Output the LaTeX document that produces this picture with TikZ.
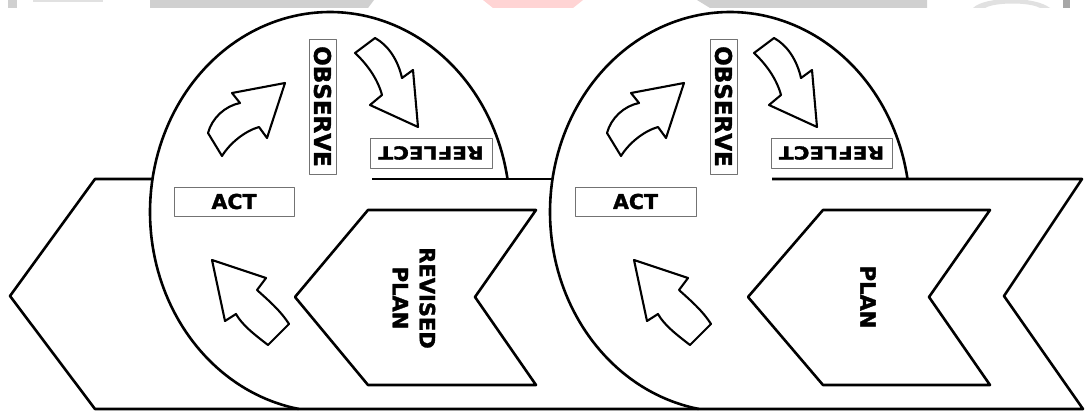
\documentclass[tikz,border=0pt]{standalone}
\usepackage{fontspec}
\setmainfont{DejaVu Sans}[BoldFeatures={FakeBold=1.6}]
\definecolor{wmgray}{RGB}{208,208,208}
\definecolor{wmlight}{RGB}{225,225,225}
\definecolor{wmpink}{RGB}{255,212,212}
\begin{document}
\begin{tikzpicture}[x=1pt,y=-1pt,line join=round,
  outline/.style={draw=black,line width=2.6pt},
  arr/.style={draw=black,line width=2.1pt,fill=white},
  lbox/.style={draw=black!55,line width=0.9pt,inner sep=0pt,fill=white},
  lbl/.style={font=\fontsize{20.5}{24}\selectfont\bfseries}]
\useasboundingbox[fill=white] (0,0) rectangle (1085,412);
% watermark strip at the top
\fill[wmgray] (8,0) rectangle (17,8);
\fill[wmlight] (33,0) rectangle (103,2);
\fill[wmgray] (150,0) -- (374,0) -- (368,8) -- (150,8) -- cycle;
\fill[wmpink] (483,0) -- (583,0) -- (573,8) -- (493,8) -- cycle;
\fill[wmgray] (697,0) -- (927,0) -- (927,8) -- (710,8) -- cycle;
\fill[wmlight] (973,8) .. controls (985,-4) and (1035,-4) .. (1050,8) -- (1040,8) .. controls (1030,2) and (995,2) .. (985,8) -- cycle;
\fill[wmgray!80!black] (1063,0) rectangle (1070,8);
% big band (arrow pointing left, notched tail)
\draw[outline] (153,179) -- (95,179) -- (10,296) -- (95,409) -- (1083,409) -- (1004,296) -- (1082,179) -- (772,179);
\draw[outline] (372,179) -- (553,179);
% the two cycle outlines
\draw[outline] plot[domain=9.8:260,samples=140,variable=\t] ({330+180*cos(\t)},{212-200*sin(\t)});
\draw[outline] plot[domain=9.8:260,samples=140,variable=\t] ({730+180*cos(\t)},{212-200*sin(\t)});
% plan chevrons
\draw[outline] (368,210) -- (536,210) -- (475,297) -- (536,385) -- (368,385) -- (295,297) -- cycle;
\draw[outline] (823,210) -- (990,210) -- (929,297) -- (990,385) -- (823,385) -- (748,297) -- cycle;
% curved arrows
\foreach \dx/\dc in {0/0,399/422}{
\begin{scope}[xshift=\dx pt]
\draw[arr] (285,83) -- (232,93) -- (240,103) .. controls (225,106) and (212,118) .. (208,133)
  -- (222,156) .. controls (230,143) and (245,131) .. (259,127) -- (267,138) -- cycle;
\draw[arr] (355,53) -- (375,38) .. controls (388,45) and (398,60) .. (402,78) -- (413,70) -- (418,127)
  -- (370,105) -- (382,95) .. controls (378,80) and (368,65) .. cycle;
\end{scope}
\begin{scope}[xshift=\dc pt]
\draw[arr] (212,260) -- (266,278) -- (257,290) .. controls (268,300) and (280,310) .. (289,324)
  -- (268,345) .. controls (255,335) and (242,325) .. (236,314) -- (225,321) -- cycle;
\end{scope}
}
% labels, cycle 1
\node[lbox,lbl,minimum width=120pt,minimum height=29pt] (act1) at (234,201.5) {ACT};
\node[lbox,rotate=-90,minimum width=135pt,minimum height=27pt,font=\fontsize{23}{26}\selectfont\bfseries] (obs1) at (322.5,106.5) {OBSERVE};
\node[lbox,rotate=180,minimum width=122pt,minimum height=30pt,font=\fontsize{18}{22}\selectfont\bfseries] (ref1) at (431,153) {\scalebox{1.2}[1]{REFLECT}};
\node[rotate=-90,align=center,font=\fontsize{21}{27}\selectfont\bfseries] (rplan) at (414,298) {REVISED\\PLAN};
% labels, cycle 2
\node[lbox,lbl,minimum width=121pt,minimum height=29pt] (act2) at (635.5,201.5) {ACT};
\node[lbox,rotate=-90,minimum width=135pt,minimum height=27pt,font=\fontsize{23}{26}\selectfont\bfseries] (obs2) at (723.5,106.5) {OBSERVE};
\node[lbox,rotate=180,minimum width=121pt,minimum height=30pt,font=\fontsize{18}{22}\selectfont\bfseries] (ref2) at (831.5,153) {\scalebox{1.2}[1]{REFLECT}};
\node[rotate=-90,font=\fontsize{21}{27}\selectfont\bfseries] (plan) at (868,297) {PLAN};
\end{tikzpicture}
\end{document}
